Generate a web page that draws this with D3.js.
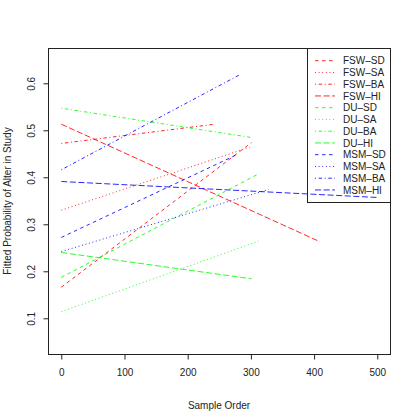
<!DOCTYPE html>
<html>
<head>
<meta charset="utf-8">
<script src="https://cdn.jsdelivr.net/npm/d3@7"></script>
<style>
  body { margin: 0; background: #fff; }
  svg { display: block; font-family: "Liberation Sans", Arial, sans-serif; }
</style>
</head>
<body>
<script>
//series names (population - sampling method)
var seriesNames = ["FSW\u2013SD", "FSW\u2013SA", "FSW\u2013BA", "FSW\u2013HI",
                   "DU\u2013SD", "DU\u2013SA", "DU\u2013BA", "DU\u2013HI",
                   "MSM\u2013SD", "MSM\u2013SA", "MSM\u2013BA", "MSM\u2013HI"];

//fitted line end points
var startOrder = [0, 0, 0, 0, 0, 0, 0, 0, 0, 0, 0, 0];
var endOrder   = [301, 298, 243, 409, 309, 312, 299, 301, 276, 328, 282, 501];
var startProb  = [0.166, 0.330, 0.472, 0.513, 0.187, 0.114, 0.547, 0.240, 0.272, 0.242, 0.416, 0.391];
var endProb    = [0.474, 0.464, 0.513, 0.263, 0.405, 0.264, 0.485, 0.184, 0.447, 0.374, 0.618, 0.357];

//axis ticks
var xTicks = [0, 100, 200, 300, 400, 500];
var yTicks = [0.1, 0.2, 0.3, 0.4, 0.5, 0.6];

//SVG dimension variables
var w = 415, h = 415;
var box = {left: 48, right: 390, top: 48, bottom: 354};

//line styles, R lty 2..5 and colours per population
var dashes = {SD: "3.5,3.5", SA: "1,2.6", BA: "1,2.6,3.5,2.6", HI: "6,2.6"};
var colours = {FSW: "#FF0000", DU: "#00FF00", MSM: "#0000FF"};

var series = seriesNames.map(function(name, i){
    var parts = name.split("\u2013");
    return {
        name: name,
        pop: parts[0],
        method: parts[1],
        pts: [[startOrder[i], startProb[i]], [endOrder[i], endProb[i]]]
    };
});

//create scales (calibrated to the reference tick positions)
var x = d3.scaleLinear()
    .domain([-21.04, 520.1])
    .range([box.left, box.right]);

var y = d3.scaleLinear()
    .domain([0.0240, 0.6751])
    .range([box.bottom, box.top]);

var svg = d3.select("body")
    .append("svg")
    .attr("width", w)
    .attr("height", h);

svg.append("rect")
    .attr("width", w)
    .attr("height", h)
    .style("fill", "#fff");

//fitted lines
var line = d3.line()
    .x(function(d){ return x(d[0]); })
    .y(function(d){ return y(d[1]); });

svg.selectAll(".fit")
    .data(series)
    .enter()
    .append("path")
    .attr("class", "fit")
    .attr("d", function(d){ return line(d.pts); })
    .style("fill", "none")
    .style("stroke", function(d){ return colours[d.pop]; })
    .style("stroke-width", 0.85)
    .style("stroke-dasharray", function(d){ return dashes[d.method]; });

//plot box
svg.append("rect")
    .attr("x", box.left + 0.5)
    .attr("y", box.top + 0.5)
    .attr("width", box.right - box.left)
    .attr("height", box.bottom - box.top)
    .style("fill", "none")
    .style("stroke", "#222")
    .style("stroke-width", 1);

//x axis
var xAxis = d3.axisBottom(x)
    .tickValues(xTicks)
    .tickSize(5)
    .tickPadding(9)
    .tickFormat(d3.format("d"));

var gx = svg.append("g")
    .attr("transform", "translate(0," + (box.bottom + 0.5) + ")")
    .call(xAxis);
gx.select(".domain")
    .attr("d", "M" + x(xTicks[0]) + ",0H" + x(xTicks[xTicks.length - 1]));

//y axis
var yAxis = d3.axisLeft(y)
    .tickValues(yTicks)
    .tickSize(5)
    .tickFormat(d3.format(".1f"));

var gy = svg.append("g")
    .attr("transform", "translate(" + (box.left + 0.5) + ",0)")
    .call(yAxis);
gy.select(".domain")
    .attr("d", "M0," + y(yTicks[0]) + "V" + y(yTicks[yTicks.length - 1]));
gy.selectAll(".tick text")
    .attr("x", null)
    .attr("dy", null)
    .attr("text-anchor", "middle")
    .attr("transform", "translate(-14,0) rotate(-90)");

svg.selectAll(".domain, .tick line")
    .style("stroke", "#222");
svg.selectAll(".tick text")
    .style("font-size", "10px")
    .style("font-family", "Liberation Sans, Arial, sans-serif")
    .style("fill", "#222");

//axis titles
svg.append("text")
    .attr("x", (box.left + box.right) / 2)
    .attr("y", 409)
    .attr("text-anchor", "middle")
    .style("font-size", "10px")
    .style("fill", "#222")
    .text("Sample Order");

svg.append("text")
    .attr("transform", "translate(11," + ((box.top + box.bottom) / 2) + ") rotate(-90)")
    .attr("text-anchor", "middle")
    .style("font-size", "10px")
    .style("fill", "#222")
    .text("Fitted Probability of Alter in Study");

//legend
var legend = svg.append("g").attr("class", "legend");

legend.append("rect")
    .attr("x", 307.5)
    .attr("y", box.top + 0.5)
    .attr("width", box.right - 307.5 + 0.5)
    .attr("height", 154)
    .style("fill", "none")
    .style("stroke", "#222");

var rows = legend.selectAll(".row")
    .data(series)
    .enter()
    .append("g")
    .attr("class", "row")
    .attr("transform", function(d, i){
        return "translate(0," + (60.7 + i * 11.75) + ")";
    });

rows.append("line")
    .attr("x1", 315)
    .attr("x2", 335)
    .style("stroke", function(d){ return colours[d.pop]; })
    .style("stroke-width", 0.85)
    .style("stroke-dasharray", function(d){ return dashes[d.method]; });

rows.append("text")
    .attr("x", 343)
    .attr("y", 3.6)
    .style("font-size", "10px")
    .style("fill", "#222")
    .text(function(d){ return d.name; });
</script>
</body>
</html>
